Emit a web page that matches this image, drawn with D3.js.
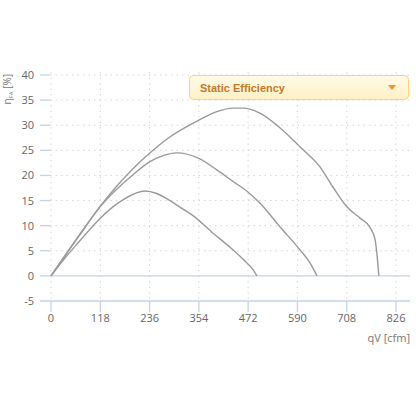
<!DOCTYPE html>
<html>
<head>
<meta charset="utf-8">
<script src="https://cdn.jsdelivr.net/npm/d3@7"></script>
<style>
  html, body { margin: 0; padding: 0; background: #fff; }
  svg { display: block; }
</style>
</head>
<body>
<script>
// efficiency curves, qV [cfm] vs eta [%]
var qv1 = [0, 30, 65, 118, 149, 177, 225, 253, 277, 316, 340, 388, 430, 460, 484, 493];
var eta1 = [0, 3.2, 6.6, 11.5, 13.8, 15.4, 16.9, 16.4, 15.4, 13.3, 12.0, 8.5, 5.6, 3.3, 1.2, 0];

var qv2 = [0, 65, 118, 197, 236, 270, 301, 354, 397, 436, 470, 500, 548, 596, 620, 637];
var eta2 = [0, 7.7, 13.8, 20.2, 22.7, 24.0, 24.5, 23.4, 21.1, 18.8, 16.8, 14.5, 9.8, 5.2, 2.6, 0];

var qv3 = [0, 65, 117, 197, 236, 277, 354, 397, 436, 460, 500, 548, 596, 644, 675, 709, 740, 764, 776, 780, 785];
var eta3 = [0, 7.8, 13.8, 21.4, 24.4, 27.2, 31.0, 32.7, 33.4, 33.4, 32.4, 29.5, 25.7, 21.7, 17.7, 13.7, 11.5, 9.6, 7.2, 4.6, 0];

var xTicks = [0, 118, 236, 354, 472, 590, 708, 826];
var yTicks = [-5, 0, 5, 10, 15, 20, 25, 30, 35, 40];

var W = 416, H = 416;
var svg = d3.select("body").append("svg")
  .attr("width", W)
  .attr("height", H);

var x = d3.scaleLinear().domain([0, 826]).range([51, 396]);
var y = d3.scaleLinear().domain([-5, 40]).range([301, 75]);
var left = 40, right = 410;

// grid
var grid = svg.append("g");
grid.selectAll("line.v").data(xTicks).enter().append("line")
  .attr("x1", d => x(d)).attr("x2", d => x(d))
  .attr("y1", y(40) - 3).attr("y2", y(-5))
  .attr("stroke", "#d6d6d6")
  .attr("stroke-dasharray", "1.5,4");
grid.selectAll("line.h").data(yTicks.filter(d => d > 0)).enter().append("line")
  .attr("x1", 50).attr("x2", right)
  .attr("y1", d => y(d)).attr("y2", d => y(d))
  .attr("stroke", "#d6d6d6")
  .attr("stroke-dasharray", "1.5,4");

// y ticks (blue dashes) and solid lines at 0 / -5
svg.selectAll("line.yt").data(yTicks).enter().append("line")
  .attr("x1", left).attr("x2", d => d <= 0 ? right : 50)
  .attr("y1", d => y(d)).attr("y2", d => y(d))
  .attr("stroke", "#c5d3e6")
  .attr("stroke-width", 1.3);

// x ticks
svg.selectAll("line.xt").data(xTicks).enter().append("line")
  .attr("x1", d => x(d)).attr("x2", d => x(d))
  .attr("y1", y(-5)).attr("y2", y(-5) + 11)
  .attr("stroke", "#c5d3e6")
  .attr("stroke-width", 1.3);

var font = "'Open Sans', 'DejaVu Sans', sans-serif";

svg.selectAll("text.yl").data(yTicks).enter().append("text")
  .attr("x", 34).attr("y", d => y(d) + 4)
  .attr("text-anchor", "end")
  .attr("font-family", font).attr("font-size", 11)
  .attr("fill", "#666")
  .text(d => d);

svg.selectAll("text.xl").data(xTicks).enter().append("text")
  .attr("x", d => x(d)).attr("y", 322)
  .attr("text-anchor", "middle")
  .attr("font-family", font).attr("font-size", 11)
  .attr("fill", "#666")
  .text(d => d);

svg.append("text")
  .attr("x", right).attr("y", 342)
  .attr("text-anchor", "end")
  .attr("font-family", font).attr("font-size", 11)
  .attr("fill", "#777")
  .text("qV [cfm]");

var yt = svg.append("text")
  .attr("transform", "translate(11,74) rotate(-90)")
  .attr("text-anchor", "end")
  .attr("font-family", font).attr("font-size", 10)
  .attr("fill", "#777");
yt.append("tspan").text("η");
yt.append("tspan").attr("font-size", 6).attr("dy", 2).text("FA");
yt.append("tspan").attr("dy", -2).text(" [%]");

// curves
var line = d3.line()
  .x(d => x(d[0]))
  .y(d => y(d[1]))
  .curve(d3.curveMonotoneX);

[[qv1, eta1], [qv2, eta2], [qv3, eta3]].forEach(function(s) {
  svg.append("path")
    .datum(d3.zip(s[0], s[1]))
    .attr("d", line)
    .attr("fill", "none")
    .attr("stroke", "#9a9a9a")
    .attr("stroke-width", 1.4);
});

// dropdown legend
var defs = svg.append("defs");
var grad = defs.append("linearGradient").attr("id", "dd").attr("x1", 0).attr("x2", 0).attr("y1", 0).attr("y2", 1);
grad.append("stop").attr("offset", "0%").attr("stop-color", "#fffbe8");
grad.append("stop").attr("offset", "100%").attr("stop-color", "#fff1c4");

var dd = svg.append("g");
dd.append("rect")
  .attr("x", 189.5).attr("y", 75.5)
  .attr("width", 219).attr("height", 24)
  .attr("rx", 4)
  .attr("fill", "url(#dd)")
  .attr("stroke", "#f7d47e");
dd.append("text")
  .attr("x", 200).attr("y", 91.5)
  .attr("font-family", "'Liberation Sans', Arial, sans-serif")
  .attr("font-weight", "bold")
  .attr("font-size", 11)
  .attr("fill", "#c47a2c")
  .text("Static Efficiency");
dd.append("path")
  .attr("d", "M388,85 L396,85 L392,90 Z")
  .attr("fill", "#f0952a");
</script>
</body>
</html>
